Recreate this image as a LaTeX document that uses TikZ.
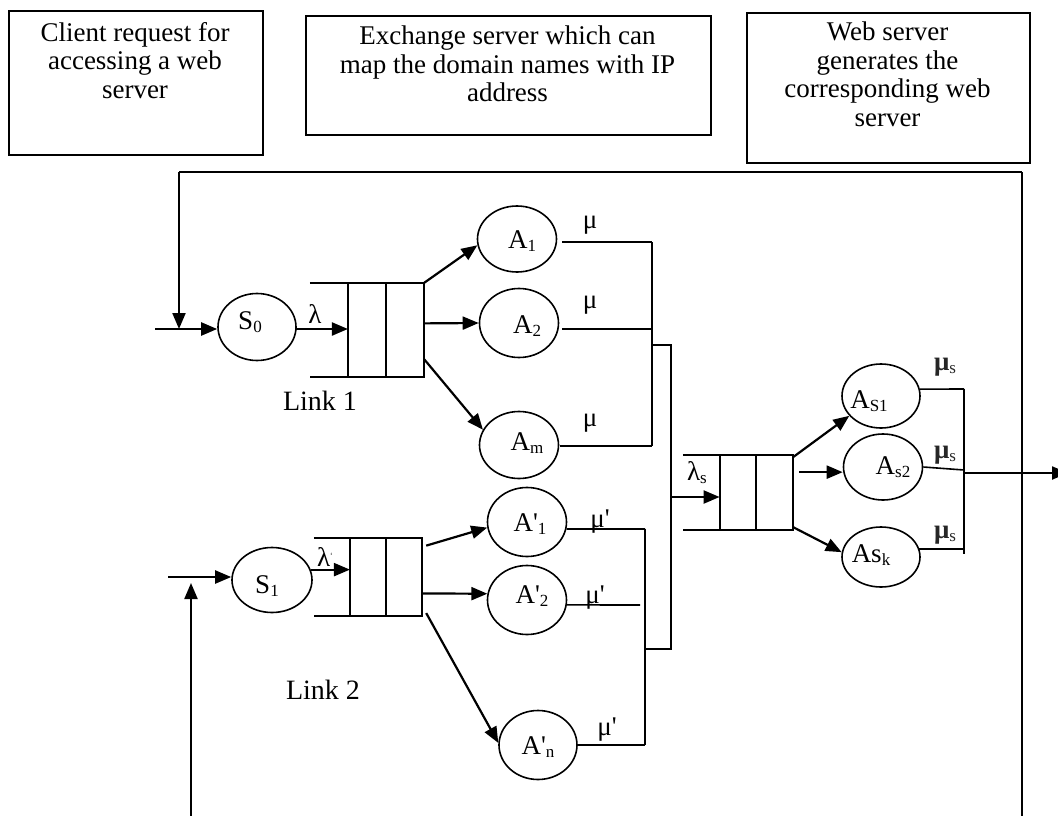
\documentclass[tikz,border=0pt]{standalone}
\usepackage{fontspec}
\setmainfont{Liberation Serif}
\usetikzlibrary{arrows.meta,shapes.geometric,calc}
% lowered subscript in a smaller size
\newcommand{\subl}[1]{\raisebox{-3pt}{\fontsize{17}{17}\selectfont #1}}
\newcommand{\prm}{\textquotesingle}
\begin{document}
\begin{tikzpicture}[x=1pt,y=-1pt,
  infobox/.style={draw,line width=1.8pt,anchor=north west,inner sep=0pt},
  boxtext/.style={anchor=north,align=center,inner sep=0pt,font=\fontsize{27}{28.5}\selectfont},
  srv/.style={ellipse,draw,line width=1.6pt,inner sep=0pt},
  lab/.style={inner sep=0pt,font=\fontsize{27}{27}\selectfont},
  wire/.style={line width=1.6pt},
  qline/.style={line width=2pt},
  arr/.style={line width=2.2pt,-{Triangle[length=16pt,width=13pt]}},
]
\useasboundingbox (0,0) rectangle (1058,816);

% ---------- description boxes ----------
\node[infobox,minimum width=254pt,minimum height=144pt] (b1) at (8,10) {};
\node[boxtext] (b1t) at (135,22) {Client request for\\accessing a web\\server};
\node[infobox,minimum width=405pt,minimum height=119pt] (b2) at (305,15) {};
\node[boxtext] (b2t) at (507.5,26) {Exchange server which can\\map the domain names with IP\\address};
\node[infobox,minimum width=283pt,minimum height=150pt] (b3) at (746,12) {};
\node[boxtext] (b3t) at (887.5,22) {Web server\\generates the\\corresponding web\\server};

% ---------- service nodes ----------
\node[srv,minimum width=78pt,minimum height=67pt] (S0) at (257,327) {};
\node[srv,minimum width=79pt,minimum height=66pt] (A1) at (517,239) {};
\node[srv,minimum width=79pt,minimum height=69pt] (A2) at (519,323) {};
\node[srv,minimum width=79pt,minimum height=67pt] (Am) at (519,445) {};
\node[srv,minimum width=80pt,minimum height=65pt] (S1) at (272,580) {};
\node[srv,minimum width=79pt,minimum height=69pt] (Ap1) at (527,522) {};
\node[srv,minimum width=79pt,minimum height=69pt] (Ap2) at (527,600) {};
\node[srv,minimum width=78pt,minimum height=69pt] (Apn) at (538,745) {};
\node[srv,minimum width=78pt,minimum height=64pt] (As1) at (881,396) {};
\node[srv,minimum width=79pt,minimum height=66pt] (As2) at (883,467) {};
\node[srv,minimum width=78pt,minimum height=60pt] (Ask) at (881,557) {};

\node[lab] (S0l) at (250,322) {S\subl{0}};
\node[lab] (A1l) at (522,241) {A\subl{1}};
\node[lab] (A2l) at (527,326) {A\subl{2}};
\node[lab] (Aml) at (527,443) {A\subl{m}};
\node[lab] (S1l) at (267,586) {S\subl{1}};
\node[lab] (Ap1l) at (530,524) {A\prm\subl{1}};
\node[lab] (Ap2l) at (532,596) {A\prm\subl{2}};
\node[lab] (Apnl) at (538,747) {A\prm\subl{n}};
\node[lab] (As1l) at (869,401) {A\subl{S1}};
\node[lab] (As2l) at (893,467) {A\subl{s2}};
\node[lab] (Askl) at (871,555) {As\subl{k}};

% ---------- queues ----------
\node[minimum width=114pt,minimum height=94pt,inner sep=0pt] (q1) at (367,330) {};
\node[minimum width=108pt,minimum height=78pt,inner sep=0pt] (q2) at (368,577) {};
\node[minimum width=110pt,minimum height=75pt,inner sep=0pt] (qs) at (738,492.5) {};
\foreach \q in {q1,q2,qs}{
  \draw[qline] (\q.north west) -- (\q.north east) -- (\q.south east) -- (\q.south west);
  \draw[qline] ($(\q.north west)!1/3!(\q.north east)$) -- ($(\q.south west)!1/3!(\q.south east)$);
  \draw[qline] ($(\q.north west)!2/3!(\q.north east)$) -- ($(\q.south west)!2/3!(\q.south east)$);
}
\coordinate (q1s) at ($(q1.west)!1/3!(q1.east)$);
\coordinate (q2s) at ($(q2.west)!1/3!(q2.east)$);
\coordinate (qss) at ($(qs.west)!1/3!(qs.east)$);

% ---------- arrivals ----------
\coordinate (in0) at (155,329);
\coordinate (in1) at (168,577);
\coordinate (s0o) at (296,329);
\draw[arr] (in0) -- (in0 -| S0.west);
\draw[arr] (s0o) -- (s0o -| q1s);
\draw[arr] (in1) -- (in1 -| S1.west);
\draw[arr] (S1.15) -- (S1.15 -| q2s);

% ---------- feedback loop ----------
\coordinate (fbL) at (179,172);
\coordinate (fbR) at (1022,172);
\coordinate (fbRb) at (1022,816);
\coordinate (fbIn) at (179,329);
\draw[line width=2pt] (fbR) -- (fbL);
\draw[line width=1.2pt] (fbR) -- (fbRb);
\draw[arr] (fbL) -- (fbIn);
\coordinate (lowB) at (191,816);
\coordinate (lowT) at (191,583);
\draw[arr] (lowB) -- (lowT);

% ---------- link 1 dispatch ----------
\draw[arr] (q1.north east) -- (A1.189);
\draw[arr] ($(q1.north east)!0.43!(q1.south east)$) -- (A2.west);
\draw[arr] ($(q1.north east)!0.81!(q1.south east)$) -- (Am.157);

% ---------- link 2 dispatch ----------
\draw[arr] ($(q2.north east)!0.1!(q2.south east)+(4,0)$) -- (Ap1.188);
\draw[arr] ($(q2.north east)!0.71!(q2.south east)$) -- (Ap2.171);
\draw[arr] ($(q2.north east)!0.96!(q2.south east)+(4,0)$) -- (Apn.177);

% ---------- link 1 output bus ----------
\coordinate (u1) at (652,242);
\coordinate (u2) at (652,329);
\coordinate (u3) at (652,446);
\coordinate (uo) at (652,345);
\draw[wire] ($(A1.east)+(5,3)$) -- (u1);
\draw[wire] ($(A2.east)+(3,6)$) -- (u2);
\draw[wire] ($(Am.east)+(1,1)$) -- (u3);
\draw[wire] (u1) -- (u3);

% ---------- link 2 output bus ----------
\coordinate (v1) at (645,529);
\coordinate (v2) at (640,605);
\coordinate (v3) at (645,745);
\coordinate (vo) at (645,649);
\draw[wire] (Ap1.-10) -- (v1);
\draw[wire] (Ap2.-7) -- (v2);
\draw[wire] (Apn.east) -- (v3);
\draw[wire] (v1) -- (v3);

% ---------- merge into web server queue ----------
\coordinate (j1) at (671,345);
\coordinate (j2) at (671,649);
\coordinate (jq) at (671,497);
\draw[wire] (uo) -- (j1) -- (j2) -- (vo);
\draw[arr] (jq) -- (jq -| qss);

% ---------- web server dispatch ----------
\draw[arr] ($(qs.north east)!0.03!(qs.south east)$) -- (As1.212);
\coordinate (qsm) at ($(qs.north east)!0.23!(qs.south east)+(6,0)$);
\draw[arr] (qsm) -- (qsm -| As2.west);
\draw[arr] ($(qs.north east)!0.96!(qs.south east)$) -- (Ask.173);

% ---------- web server output ----------
\coordinate (w1) at (964,389);
\coordinate (w2) at (964,470);
\coordinate (w3) at (964,554);
\coordinate (wo) at (964,473);
\coordinate (out) at (1068,473);
\draw[wire] (As1.10) -- (w1);
\draw[wire] (As2.east) -- (w2);
\draw[wire] (Ask.12) -- (w3 |- Ask.12);
\draw[wire] (w1) -- (w3);
\draw[arr] (wo) -- (out);

% ---------- rates and link names ----------
\node[lab] (lam) at (315,314) {λ};
\node[lab] (lamp) at (325,557) {λ\raisebox{8pt}{\fontsize{8}{8}\selectfont `}};
\node[lab] (lams) at (697,473) {λ\subl{s}};
\node[lab] (mu1) at (590,225) {μ};
\node[lab] (mu2) at (590,305) {μ};
\node[lab] (mu3) at (590,423) {μ};
\node[lab] (mup1) at (600,522) {μ\prm};
\node[lab] (mup2) at (595,598) {μ\prm};
\node[lab] (mup3) at (607,730) {μ\prm};
\node[lab,text=black!85] (mus1) at (945,367) {\textbf{μ}\subl{s}};
\node[lab,text=black!85] (mus2) at (945,455) {\textbf{μ}\subl{s}};
\node[lab,text=black!85] (mus3) at (945,535) {\textbf{μ}\subl{s}};
\node[lab,font=\fontsize{28}{28}\selectfont] (link1) at (320,401) {Link 1};
\node[lab,font=\fontsize{28}{28}\selectfont] (link2) at (323,690) {Link 2};
\end{tikzpicture}
\end{document}
